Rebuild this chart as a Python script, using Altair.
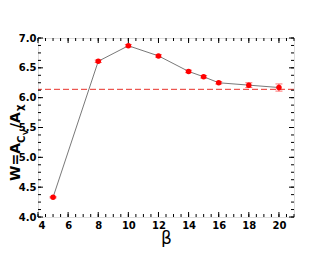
import altair as alt
import pandas as pd
import numpy as np

beta = [5, 8, 10, 12, 14, 15, 16, 18, 20]
W = [4.33, 6.61, 6.87, 6.70, 6.44, 6.35, 6.25, 6.21, 6.17]
err = [0.01, 0.02, 0.02, 0.02, 0.02, 0.02, 0.02, 0.04, 0.06]
ref_level = 6.14
x_ticks = [4, 6, 8, 10, 12, 14, 16, 18, 20]
y_ticks = [4.0, 4.5, 5.0, 5.5, 6.0, 6.5, 7.0]
x_minor = [4 + 0.5 * i for i in range(35)]
y_minor = [4 + 0.125 * i for i in range(25)]

W_PLOT, H_PLOT = 256, 179
FONT = "DejaVu Sans"

df = pd.DataFrame({"beta": beta, "W": W, "lo": np.array(W) - np.array(err), "hi": np.array(W) + np.array(err)})

xs = alt.Scale(domain=[4, 21], nice=False, zero=False)
ys = alt.Scale(domain=[4, 7], nice=False, zero=False)

X_AX = alt.Axis(values=x_ticks, title="β", titleFontSize=17, titleFontWeight="normal",
                titleFont="DejaVu Sans", titlePadding=0, labelFont=FONT, labelFontWeight="bold",
                labelFontSize=10, labelPadding=3, ticks=False, domain=False, grid=False,
                labelOverlap=False, labelColor="black", titleColor="black")
Y_AX = alt.Axis(values=y_ticks, format=".1f", title="", labelFont=FONT, labelFontWeight="bold",
                labelFontSize=10, labelPadding=2, ticks=False, domain=False, grid=False,
                labelOverlap=False, labelColor="black")

def xq(f):
    return alt.X(f, type="quantitative", scale=xs, axis=X_AX, title="β")

def yq(f):
    return alt.Y(f, type="quantitative", scale=ys, axis=Y_AX, title="")

base = alt.Chart(df)
line = base.mark_line(color="#555555", strokeWidth=0.8).encode(x=xq("beta"), y=yq("W"))
pts = base.mark_circle(color="#ff0000", size=30, opacity=1).encode(x=xq("beta"), y=yq("W"))
ebar = base.mark_rule(color="#ff3030", strokeWidth=1).encode(x=xq("beta"), y=yq("lo"), y2="hi:Q")
cap_lo = base.mark_tick(color="#ff3030", size=7, thickness=1, orient="horizontal").encode(x=xq("beta"), y=yq("lo"))
cap_hi = base.mark_tick(color="#ff3030", size=7, thickness=1, orient="horizontal").encode(x=xq("beta"), y=yq("hi"))

hline = alt.Chart(pd.DataFrame({"y": [ref_level]})).mark_rule(
    color="#e8302a", strokeWidth=1, strokeDash=[6, 3]).encode(y=yq("y"))

def xt(vals, length):
    d = alt.Chart(pd.DataFrame({"v": vals}))
    b = d.mark_rule(color="black", strokeWidth=1).encode(x=xq("v"), y=alt.value(H_PLOT), y2=alt.value(H_PLOT - length))
    t = d.mark_rule(color="black", strokeWidth=1).encode(x=xq("v"), y=alt.value(0), y2=alt.value(length))
    return b + t

def yt(vals, length):
    d = alt.Chart(pd.DataFrame({"v": vals}))
    l = d.mark_rule(color="black", strokeWidth=1).encode(y=yq("v"), x=alt.value(0), x2=alt.value(length))
    r = d.mark_rule(color="black", strokeWidth=1).encode(y=yq("v"), x=alt.value(W_PLOT), x2=alt.value(W_PLOT - length))
    return l + r

def label(txt, x, y, size):
    return alt.Chart(pd.DataFrame({"t": [txt]})).mark_text(
        angle=270, align="left", baseline="alphabetic", font="DejaVu Sans", fontWeight="bold",
        fontSize=size, color="black").encode(text="t:N", x=alt.value(x), y=alt.value(y))

ytitle = (label("W=A", -18, 143, 14) + label("C", -13, 105, 10) + label("V", -10, 97, 7)
          + label("/A", -18, 90, 14) + label("χ", -15, 73, 10))

chart = alt.layer(
    line, hline, ebar, cap_lo, cap_hi, pts,
    xt(x_minor, 3), xt(x_ticks, 5), yt(y_minor, 3), yt(y_ticks, 5),
    ytitle
).properties(
    width=W_PLOT, height=H_PLOT,
    autosize=alt.AutoSizeParams(type="none"),
    padding={"left": 30, "top": 30, "right": 20, "bottom": 30},
).configure_view(stroke="black", strokeWidth=1.5).configure(background="white")

chart.save("out.html", embed_options={"renderer": "svg", "actions": False})
